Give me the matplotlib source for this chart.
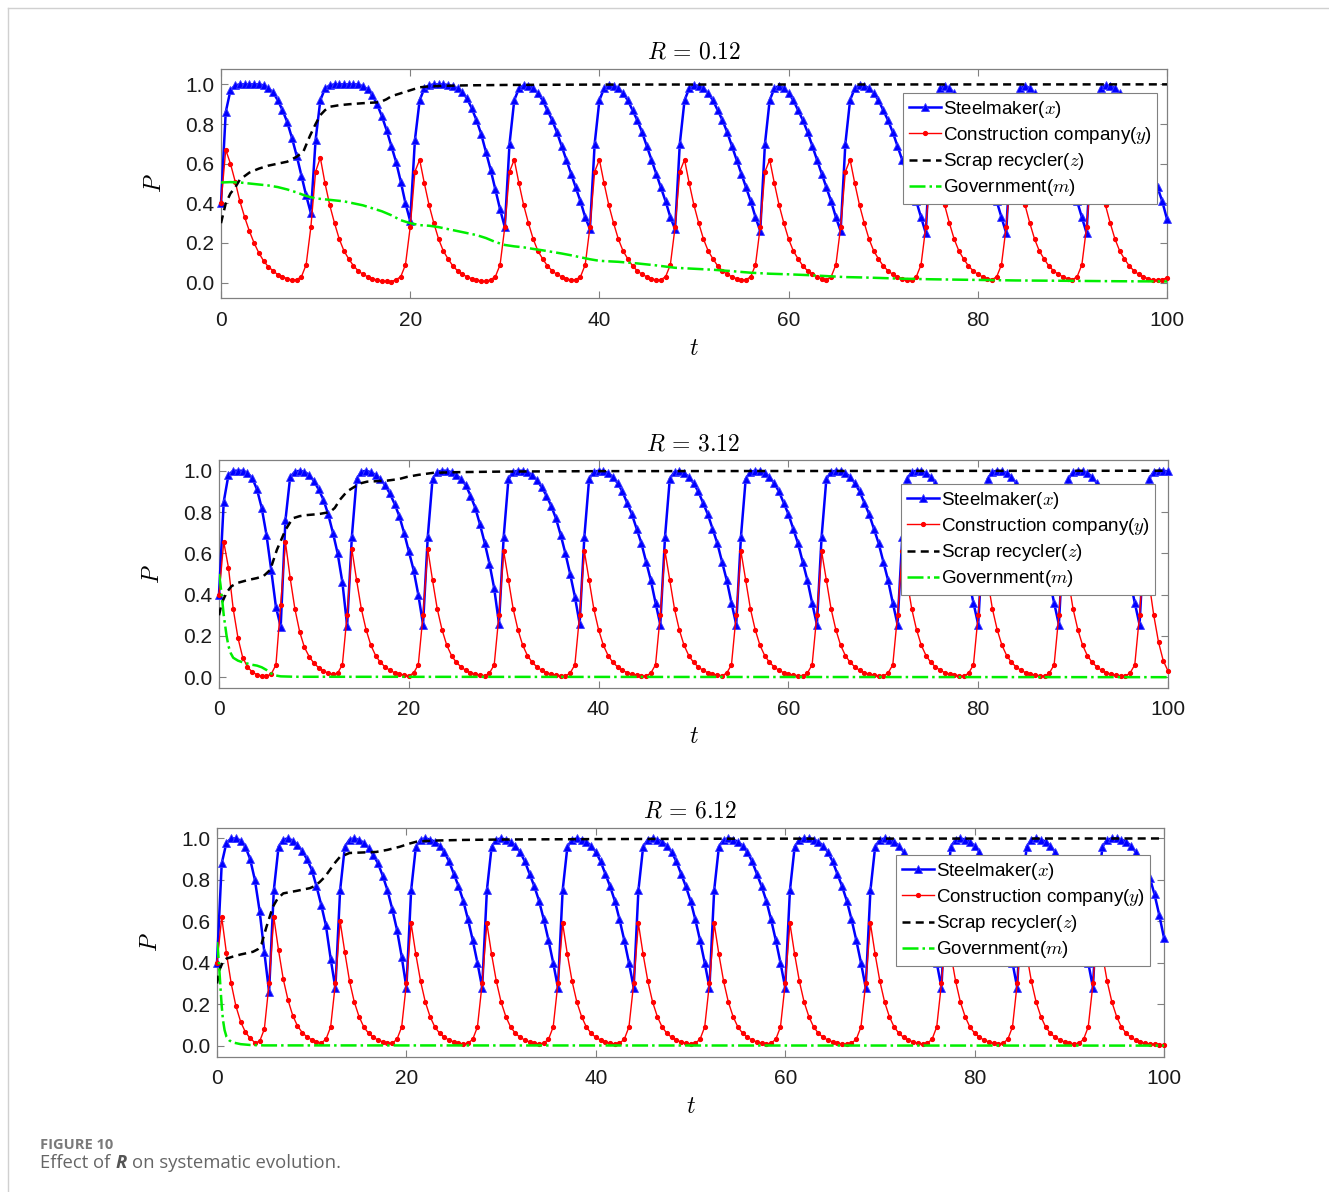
import numpy as np
import matplotlib
matplotlib.use('Agg')
import matplotlib.pyplot as plt
from matplotlib.lines import Line2D

plt.rcParams['font.family'] = ['Liberation Sans', 'DejaVu Sans']
plt.rcParams['mathtext.fontset'] = 'cm'

# R = 0.12
steel_r012 = [
    0.40, 0.86, 0.97, 0.995, 1.0, 1.0, 1.0, 1.0, 1.0, 0.995, 0.98, 0.96, 0.92, 0.87, 0.81, 0.73, 0.64, 0.54, 0.44, 0.35,
    0.72, 0.92, 0.98, 0.995, 1.0, 1.0, 1.0, 1.0, 1.0, 1.0, 0.99, 0.975, 0.945, 0.90, 0.84, 0.77, 0.69, 0.61, 0.51, 0.40,
    0.31, 0.72, 0.92, 0.98, 0.995, 1.0, 1.0, 1.0, 0.997, 0.99, 0.98, 0.96, 0.93, 0.88, 0.82, 0.75, 0.66, 0.57, 0.47, 0.37,
    0.28, 0.70, 0.92, 0.98, 0.995, 0.993, 0.98, 0.955, 0.92, 0.87, 0.82, 0.76, 0.69, 0.62, 0.55, 0.48, 0.41, 0.33, 0.27, 0.70,
    0.92, 0.98, 0.995, 0.993, 0.98, 0.955, 0.92, 0.87, 0.82, 0.76, 0.69, 0.62, 0.55, 0.48, 0.41, 0.33, 0.27, 0.70, 0.92, 0.98,
    0.995, 0.993, 0.98, 0.955, 0.92, 0.87, 0.82, 0.76, 0.69, 0.62, 0.55, 0.48, 0.41, 0.33, 0.26, 0.70, 0.92, 0.98, 0.993, 0.98,
    0.955, 0.92, 0.87, 0.82, 0.76, 0.69, 0.62, 0.55, 0.48, 0.41, 0.33, 0.26, 0.70, 0.92, 0.98, 0.995, 0.993, 0.98, 0.955, 0.92,
    0.87, 0.82, 0.76, 0.69, 0.62, 0.55, 0.48, 0.41, 0.33, 0.25, 0.70, 0.92, 0.98, 0.993, 0.98, 0.955, 0.92, 0.87, 0.82, 0.76,
    0.69, 0.62, 0.55, 0.48, 0.41, 0.33, 0.25, 0.70, 0.92, 0.98, 0.993, 0.98, 0.955, 0.92, 0.87, 0.82, 0.76, 0.69, 0.62, 0.55,
    0.48, 0.41, 0.33, 0.25, 0.70, 0.92, 0.98, 0.995, 0.993, 0.98, 0.955, 0.92, 0.87, 0.82, 0.76, 0.69, 0.62, 0.55, 0.48, 0.41,
    0.32,
]
constr_r012 = [
    0.40, 0.67, 0.60, 0.51, 0.41, 0.33, 0.26, 0.20, 0.15, 0.11, 0.08, 0.06, 0.04, 0.03, 0.02, 0.013, 0.015, 0.03, 0.09, 0.28,
    0.56, 0.63, 0.50, 0.39, 0.30, 0.22, 0.16, 0.12, 0.085, 0.06, 0.042, 0.03, 0.02, 0.013, 0.009, 0.006, 0.005, 0.015, 0.03, 0.09,
    0.28, 0.56, 0.62, 0.50, 0.39, 0.30, 0.22, 0.16, 0.12, 0.085, 0.06, 0.042, 0.03, 0.02, 0.013, 0.009, 0.006, 0.015, 0.03, 0.09,
    0.28, 0.56, 0.62, 0.50, 0.39, 0.30, 0.22, 0.16, 0.12, 0.085, 0.06, 0.042, 0.03, 0.02, 0.013, 0.015, 0.03, 0.09, 0.28, 0.56,
    0.62, 0.50, 0.39, 0.30, 0.22, 0.16, 0.12, 0.085, 0.06, 0.042, 0.03, 0.02, 0.013, 0.015, 0.03, 0.09, 0.28, 0.56, 0.62, 0.50,
    0.39, 0.30, 0.22, 0.16, 0.12, 0.085, 0.06, 0.042, 0.03, 0.02, 0.013, 0.015, 0.03, 0.09, 0.28, 0.56, 0.62, 0.50, 0.39, 0.30,
    0.22, 0.16, 0.12, 0.085, 0.06, 0.042, 0.03, 0.02, 0.015, 0.03, 0.09, 0.28, 0.56, 0.62, 0.50, 0.39, 0.30, 0.22, 0.16, 0.12,
    0.085, 0.06, 0.042, 0.03, 0.02, 0.013, 0.015, 0.03, 0.09, 0.28, 0.56, 0.62, 0.50, 0.39, 0.30, 0.22, 0.16, 0.12, 0.085, 0.06,
    0.042, 0.03, 0.02, 0.015, 0.03, 0.09, 0.28, 0.56, 0.62, 0.50, 0.39, 0.30, 0.22, 0.16, 0.12, 0.085, 0.06, 0.042, 0.03, 0.02,
    0.015, 0.03, 0.09, 0.28, 0.56, 0.62, 0.50, 0.39, 0.30, 0.22, 0.16, 0.12, 0.085, 0.06, 0.042, 0.03, 0.02, 0.013, 0.012, 0.015,
    0.025,
]
scrap_t_r012 = [0, 0.5, 1, 1.5, 2, 3, 4, 5, 6, 7, 8, 8.7, 9.4, 10, 10.5, 11, 11.5, 12.5, 13.6, 15, 16.8,
                17.5, 18, 19, 20, 21, 22, 24, 26, 30, 35, 40, 100]
scrap_r012 = [0.30, 0.40, 0.45, 0.48, 0.52, 0.555, 0.575, 0.59, 0.60, 0.61, 0.635, 0.66, 0.74, 0.80, 0.845, 0.87,
              0.887, 0.895, 0.90, 0.905, 0.91, 0.925, 0.94, 0.955, 0.97, 0.985, 0.99, 0.993, 0.995, 0.997, 0.998,
              0.999, 1.0]
gov_t_r012 = [0, 1, 2, 3, 4, 5, 6, 7, 8, 9, 10, 11, 12, 13, 14, 15, 16, 17, 18, 19, 20, 21, 22, 23, 24, 25, 26,
              27, 28, 29, 30, 31, 32, 33, 34, 35, 36, 37, 38, 39, 40, 42, 44, 46, 48, 50, 52, 54, 56, 58, 60, 62,
              64, 66, 68, 70, 72, 75, 78, 81, 84, 87, 90, 95, 100]
gov_r012 = [0.505, 0.507, 0.505, 0.50, 0.495, 0.49, 0.482, 0.47, 0.455, 0.437,
            0.425, 0.42, 0.415, 0.41, 0.40, 0.39, 0.375, 0.36, 0.34, 0.315,
            0.30, 0.29, 0.287, 0.28, 0.27, 0.26, 0.25, 0.24, 0.225, 0.205,
            0.19, 0.183, 0.178, 0.17, 0.163, 0.155, 0.147, 0.138, 0.128, 0.118,
            0.11, 0.105, 0.097, 0.087, 0.075, 0.07, 0.065, 0.058, 0.05, 0.045, 0.042, 0.038, 0.033, 0.028,
            0.026, 0.023, 0.02, 0.017, 0.015, 0.013, 0.011, 0.01, 0.009, 0.007, 0.006]

# R = 3.12
steel_r312 = [
    0.40, 0.85, 0.98, 1.0, 1.0, 1.0, 0.99, 0.965, 0.91, 0.82, 0.69, 0.52, 0.34, 0.245, 0.76, 0.97, 0.995, 1.0, 0.995, 0.98,
    0.95, 0.91, 0.86, 0.79, 0.70, 0.60, 0.46, 0.25, 0.68, 0.96, 0.995, 1.0, 0.993, 0.98, 0.96, 0.93, 0.89, 0.84, 0.78, 0.70,
    0.61, 0.52, 0.40, 0.255, 0.68, 0.96, 0.995, 1.0, 1.0, 0.993, 0.98, 0.96, 0.93, 0.88, 0.82, 0.74, 0.65, 0.55, 0.43, 0.26,
    0.68, 0.96, 0.995, 1.0, 1.0, 0.993, 0.98, 0.955, 0.92, 0.88, 0.83, 0.77, 0.69, 0.60, 0.50, 0.39, 0.26, 0.68, 0.96, 0.995,
    1.0, 0.997, 0.99, 0.97, 0.94, 0.90, 0.845, 0.79, 0.72, 0.65, 0.56, 0.47, 0.36, 0.255, 0.68, 0.96, 0.995, 0.997, 0.99, 0.97,
    0.94, 0.90, 0.845, 0.79, 0.72, 0.65, 0.56, 0.47, 0.36, 0.255, 0.68, 0.96, 0.995, 1.0, 0.997, 0.99, 0.97, 0.94, 0.90, 0.845,
    0.79, 0.72, 0.65, 0.56, 0.47, 0.36, 0.255, 0.68, 0.96, 0.995, 1.0, 0.997, 0.99, 0.97, 0.94, 0.90, 0.845, 0.79, 0.72, 0.65,
    0.56, 0.47, 0.36, 0.255, 0.68, 0.96, 0.995, 1.0, 0.997, 0.99, 0.97, 0.94, 0.90, 0.845, 0.79, 0.72, 0.65, 0.56, 0.47, 0.36,
    0.255, 0.68, 0.96, 0.995, 1.0, 0.997, 0.99, 0.97, 0.94, 0.90, 0.845, 0.79, 0.72, 0.65, 0.56, 0.47, 0.36, 0.255, 0.68, 0.96,
    0.995, 1.0, 0.997, 0.99, 0.97, 0.94, 0.90, 0.845, 0.79, 0.72, 0.65, 0.56, 0.47, 0.36, 0.255, 0.68, 0.96, 0.995, 1.0, 1.0,
    0.997,
]
constr_r312 = [
    0.40, 0.655, 0.53, 0.33, 0.19, 0.095, 0.05, 0.025, 0.012, 0.006, 0.005, 0.015, 0.06, 0.35, 0.655, 0.48, 0.33, 0.22, 0.145, 0.10,
    0.068, 0.046, 0.03, 0.02, 0.013, 0.02, 0.06, 0.30, 0.62, 0.47, 0.33, 0.23, 0.155, 0.105, 0.072, 0.05, 0.033, 0.022, 0.015, 0.01,
    0.007, 0.02, 0.06, 0.30, 0.62, 0.47, 0.33, 0.23, 0.155, 0.105, 0.072, 0.05, 0.033, 0.022, 0.015, 0.01, 0.007, 0.02, 0.06, 0.30,
    0.61, 0.47, 0.33, 0.23, 0.155, 0.105, 0.072, 0.05, 0.033, 0.022, 0.015, 0.01, 0.007, 0.005, 0.02, 0.06, 0.30, 0.61, 0.47, 0.33,
    0.23, 0.155, 0.105, 0.072, 0.05, 0.033, 0.022, 0.015, 0.01, 0.007, 0.005, 0.02, 0.06, 0.30, 0.61, 0.47, 0.33, 0.23, 0.155, 0.105,
    0.072, 0.05, 0.033, 0.022, 0.015, 0.01, 0.007, 0.02, 0.06, 0.30, 0.61, 0.47, 0.33, 0.23, 0.155, 0.105, 0.072, 0.05, 0.033, 0.022,
    0.015, 0.01, 0.007, 0.005, 0.02, 0.06, 0.30, 0.61, 0.47, 0.33, 0.23, 0.155, 0.105, 0.072, 0.05, 0.033, 0.022, 0.015, 0.01, 0.007,
    0.005, 0.02, 0.06, 0.30, 0.61, 0.47, 0.33, 0.23, 0.155, 0.105, 0.072, 0.05, 0.033, 0.022, 0.015, 0.01, 0.007, 0.005, 0.02, 0.06,
    0.30, 0.61, 0.47, 0.33, 0.23, 0.155, 0.105, 0.072, 0.05, 0.033, 0.022, 0.015, 0.01, 0.007, 0.005, 0.02, 0.06, 0.30, 0.61, 0.47,
    0.33, 0.23, 0.155, 0.105, 0.072, 0.05, 0.033, 0.022, 0.015, 0.01, 0.007, 0.005, 0.02, 0.06, 0.30, 0.61, 0.46, 0.30, 0.17, 0.08,
    0.03,
]
scrap_t_r312 = [0, 0.3, 0.8, 1.3, 1.9, 3, 4, 4.7, 5.4, 6.1, 6.6, 7, 7.5, 7.8, 8.5, 9.2, 10.5, 11.7, 12.2, 12.75,
                13.5, 14.2, 15, 15.6, 17.7, 19, 19.8, 21, 22.6, 25, 30, 40, 100]
scrap_r312 = [0.30, 0.36, 0.41, 0.44, 0.456, 0.47, 0.48, 0.49, 0.52, 0.617, 0.67, 0.713, 0.75, 0.77, 0.78, 0.785,
              0.79, 0.80, 0.82, 0.86, 0.90, 0.92, 0.94, 0.947, 0.952, 0.96, 0.97, 0.98, 0.99, 0.993, 0.996, 0.998, 1.0]
gov_t_r312 = [0, 0.15, 0.3, 0.5, 0.65, 0.8, 1, 1.25, 1.5, 2, 2.5, 3, 3.5, 4, 4.5, 5, 5.5, 6, 6.5, 8, 100]
gov_r312 = [0.50, 0.45, 0.39, 0.30, 0.25, 0.20, 0.15, 0.115, 0.094, 0.08, 0.072, 0.066, 0.06, 0.056, 0.048,
            0.035, 0.018, 0.008, 0.004, 0.002, 0.0]

# R = 6.12
steel_r612 = [
    0.40, 0.88, 0.98, 1.0, 1.0, 0.99, 0.96, 0.90, 0.80, 0.65, 0.45, 0.26, 0.75, 0.96, 0.995, 1.0, 0.99, 0.97, 0.94, 0.90,
    0.85, 0.77, 0.68, 0.58, 0.42, 0.277, 0.75, 0.96, 0.995, 1.0, 0.993, 0.98, 0.955, 0.92, 0.88, 0.82, 0.75, 0.66, 0.56, 0.43,
    0.28, 0.75, 0.96, 0.995, 1.0, 0.995, 0.985, 0.965, 0.935, 0.89, 0.83, 0.77, 0.70, 0.61, 0.51, 0.40, 0.28, 0.75, 0.96, 0.995,
    1.0, 0.995, 0.985, 0.965, 0.935, 0.89, 0.83, 0.77, 0.70, 0.61, 0.51, 0.40, 0.28, 0.75, 0.96, 0.995, 1.0, 0.995, 0.985, 0.965,
    0.935, 0.89, 0.83, 0.77, 0.70, 0.61, 0.51, 0.40, 0.28, 0.75, 0.96, 0.995, 1.0, 0.995, 0.985, 0.965, 0.935, 0.89, 0.83, 0.77,
    0.70, 0.61, 0.51, 0.40, 0.28, 0.75, 0.96, 0.995, 1.0, 0.995, 0.985, 0.965, 0.935, 0.89, 0.83, 0.77, 0.70, 0.61, 0.51, 0.40,
    0.28, 0.75, 0.96, 0.995, 1.0, 1.0, 0.995, 0.985, 0.965, 0.935, 0.89, 0.83, 0.77, 0.70, 0.61, 0.51, 0.40, 0.28, 0.75, 0.96,
    0.995, 1.0, 0.995, 0.985, 0.965, 0.935, 0.89, 0.83, 0.77, 0.70, 0.61, 0.51, 0.40, 0.28, 0.75, 0.96, 0.995, 1.0, 0.995, 0.985,
    0.965, 0.935, 0.89, 0.83, 0.77, 0.70, 0.61, 0.51, 0.40, 0.28, 0.75, 0.96, 0.995, 1.0, 0.995, 0.985, 0.965, 0.935, 0.89, 0.83,
    0.77, 0.70, 0.61, 0.51, 0.40, 0.28, 0.75, 0.96, 0.995, 1.0, 1.0, 0.995, 0.985, 0.965, 0.935, 0.90, 0.86, 0.81, 0.73, 0.63,
    0.52,
]
constr_r612 = [
    0.40, 0.62, 0.445, 0.30, 0.19, 0.115, 0.065, 0.035, 0.015, 0.02, 0.08, 0.30, 0.62, 0.46, 0.32, 0.22, 0.145, 0.095, 0.063, 0.042,
    0.028, 0.019, 0.013, 0.03, 0.09, 0.30, 0.60, 0.45, 0.31, 0.21, 0.14, 0.09, 0.06, 0.04, 0.027, 0.018, 0.012, 0.012, 0.03, 0.09,
    0.30, 0.59, 0.44, 0.31, 0.21, 0.14, 0.09, 0.06, 0.04, 0.027, 0.018, 0.012, 0.008, 0.012, 0.03, 0.09, 0.30, 0.59, 0.44, 0.31,
    0.21, 0.14, 0.09, 0.06, 0.04, 0.027, 0.018, 0.012, 0.008, 0.012, 0.03, 0.09, 0.30, 0.59, 0.44, 0.31, 0.21, 0.14, 0.09, 0.06,
    0.04, 0.027, 0.018, 0.012, 0.008, 0.012, 0.03, 0.09, 0.30, 0.59, 0.44, 0.31, 0.21, 0.14, 0.09, 0.06, 0.04, 0.027, 0.018, 0.012,
    0.008, 0.012, 0.03, 0.09, 0.30, 0.59, 0.44, 0.31, 0.21, 0.14, 0.09, 0.06, 0.04, 0.027, 0.018, 0.012, 0.008, 0.012, 0.03, 0.09,
    0.30, 0.59, 0.44, 0.31, 0.21, 0.14, 0.09, 0.06, 0.04, 0.027, 0.018, 0.012, 0.008, 0.006, 0.012, 0.03, 0.09, 0.30, 0.59, 0.44,
    0.31, 0.21, 0.14, 0.09, 0.06, 0.04, 0.027, 0.018, 0.012, 0.008, 0.012, 0.03, 0.09, 0.30, 0.59, 0.44, 0.31, 0.21, 0.14, 0.09,
    0.06, 0.04, 0.027, 0.018, 0.012, 0.008, 0.012, 0.03, 0.09, 0.30, 0.59, 0.44, 0.31, 0.21, 0.14, 0.09, 0.06, 0.04, 0.027, 0.018,
    0.012, 0.008, 0.012, 0.03, 0.09, 0.30, 0.59, 0.44, 0.31, 0.21, 0.14, 0.09, 0.06, 0.04, 0.027, 0.018, 0.012, 0.008, 0.006, 0.005,
    0.005,
]
scrap_t_r612 = [0, 0.3, 0.63, 1, 1.7, 2.5, 3.8, 4.3, 4.7, 5.2, 5.9, 6.4, 7, 8.4, 9.8, 10.3, 10.85, 11.4, 11.9,
                12.5, 12.96, 14, 16.8, 18, 19.3, 20.3, 21.1, 23, 26, 30, 40, 55, 100]
scrap_r612 = [0.30, 0.37, 0.405, 0.42, 0.43, 0.44, 0.453, 0.465, 0.49, 0.57, 0.67, 0.71, 0.735, 0.747, 0.76, 0.77,
              0.79, 0.815, 0.847, 0.885, 0.91, 0.93, 0.935, 0.945, 0.96, 0.975, 0.985, 0.99, 0.993, 0.995, 0.997,
              0.999, 1.0]
gov_t_r612 = [0, 0.1, 0.2, 0.36, 0.5, 0.63, 0.8, 1, 1.3, 1.7, 2.5, 3.5, 5, 100]
gov_r612 = [0.50, 0.46, 0.40, 0.285, 0.19, 0.124, 0.075, 0.043, 0.025, 0.015, 0.007, 0.003, 0.001, 0.0]

titles = [r'$R\,=\,0.12$', r'$R\,=\,3.12$', r'$R\,=\,6.12$']
labels = [r'Steelmaker($x$)', r'Construction company($y$)', r'Scrap recycler($z$)', r'Government($m$)']

panels = [
    (steel_r012, constr_r012, scrap_t_r012, scrap_r012, gov_t_r012, gov_r012),
    (steel_r312, constr_r312, scrap_t_r312, scrap_r312, gov_t_r312, gov_r312),
    (steel_r612, constr_r612, scrap_t_r612, scrap_r612, gov_t_r612, gov_r612),
]

W, H = 1329, 1192
# axes boxes in pixels: left, top, right, bottom
boxes = [(221, 68.5, 1167, 298.5), (219, 460, 1168, 687.5), (217, 827.5, 1164, 1057)]
ylims = [(-0.08, 1.08), (-0.05, 1.052), (-0.055, 1.053)]
leg_pos = [(903, 93), (901, 484), (896, 855)]
frame_col = '#808080'

fig = plt.figure(figsize=(W / 100, H / 100), dpi=100)

for k, (steel, constr, zt, zv, mt, mv) in enumerate(panels):
    l, t, r, b = boxes[k]
    ax = fig.add_axes([l / W, 1 - b / H, (r - l) / W, (b - t) / H])
    ts = np.arange(len(steel)) * 0.5
    tc = np.arange(len(constr)) * 0.5
    ax.plot(ts, steel, color='#0000ff', lw=1.8, marker='^', ms=5.8, mew=0.6,
            mfc='#0000ff', mec='#3a3aff', label=labels[0], clip_on=False, zorder=3)
    ax.plot(tc, constr, color='#ff0000', lw=1.0, marker='.', ms=5.5,
            label=labels[1], clip_on=False, zorder=3)
    ax.plot(zt, zv, color='k', lw=1.8, ls=(0, (3.2, 2.1)), label=labels[2], zorder=4)
    ax.plot(mt, mv, color='#00ee00', lw=1.8, ls='-.', label=labels[3], zorder=4)

    ax.set_xlim(0, 100)
    ax.set_ylim(*ylims[k])
    ax.set_xticks(np.arange(0, 101, 20))
    ax.set_yticks(np.arange(0, 1.01, 0.2))
    ax.set_yticklabels(['%.1f' % v for v in np.arange(0, 1.01, 0.2)])
    ax.tick_params(direction='in', top=True, right=True, length=5, width=0.8,
                   color=frame_col, labelsize=15, labelcolor='#1a1a1a')
    ax.tick_params(axis='x', pad=9)
    ax.tick_params(axis='y', pad=5)
    for sp in ax.spines.values():
        sp.set_color(frame_col)
        sp.set_linewidth(0.9)

    ax.set_title(titles[k], fontsize=17, pad=7)
    ax.set_xlabel(r'$t$', fontsize=17)
    ax.set_ylabel(r'$P$', fontsize=17, rotation=90)
    ax.xaxis.set_label_coords(0.5, -0.17)
    ax.yaxis.set_label_coords(-0.058, 0.5)

    lx, ly = leg_pos[k]
    leg = ax.legend(loc='upper left', bbox_to_anchor=((lx - l) / (r - l), (b - ly) / (b - t)),
                    fontsize=13.5, frameon=True, fancybox=False, framealpha=1,
                    edgecolor=frame_col, borderpad=0.3, labelspacing=0.28,
                    handlelength=1.7, handletextpad=0.12, borderaxespad=0)
    leg.get_frame().set_linewidth(0.8)

# page frame lines
fig.add_artist(Line2D([8 / W, 8 / W], [0, 1 - 8 / H], color='#d0d0d0', lw=1))
fig.add_artist(Line2D([8 / W, 1], [1 - 8 / H, 1 - 8 / H], color='#d0d0d0', lw=1))

# caption
fig.text(40 / W, 1 - 1145 / H, 'FIGURE 10', fontsize=10.5, fontweight='bold',
         family=['Open Sans', 'DejaVu Sans'], color='#7a7a7a', va='center')
cap1 = fig.text(40 / W, 1 - 1163 / H, 'Effect of', fontsize=13.3,
                family=['Open Sans', 'DejaVu Sans'], color='#666666', va='center')
renderer = fig.canvas.get_renderer()
x1 = cap1.get_window_extent(renderer).x1 + 5
cap2 = fig.text(x1 / W, 1 - 1163 / H, 'R', fontsize=13.3, fontweight='bold', fontstyle='italic',
                family=['Open Sans', 'DejaVu Sans'], color='#555555', va='center')
x2 = cap2.get_window_extent(renderer).x1 + 5
fig.text(x2 / W, 1 - 1163 / H, 'on systematic evolution.', fontsize=13.3,
         family=['Open Sans', 'DejaVu Sans'], color='#666666', va='center')

fig.savefig('out.png', dpi=100)
